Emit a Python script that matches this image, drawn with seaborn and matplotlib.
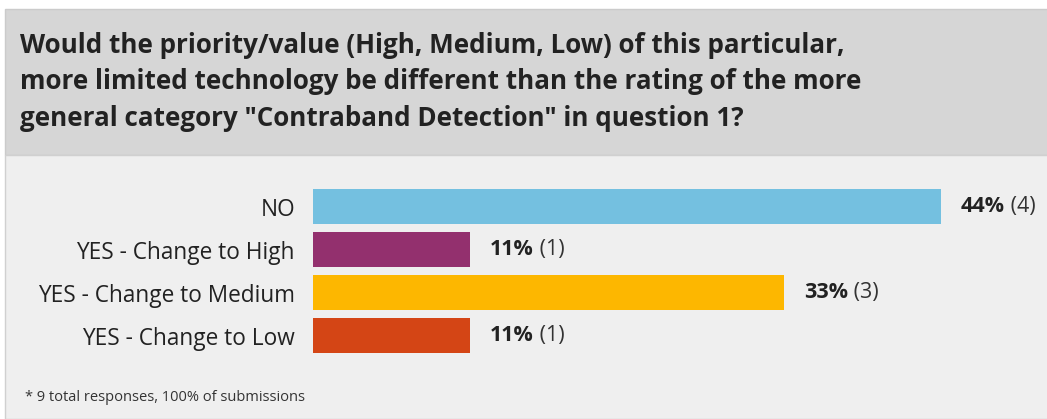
import matplotlib
matplotlib.use("Agg")
import matplotlib.pyplot as plt
import seaborn as sns
import pandas as pd
from matplotlib.patches import Rectangle

# Survey answers
categories = ["NO", "YES - Change to High", "YES - Change to Medium", "YES - Change to Low"]
counts = [4, 1, 3, 1]
percents = ["44%", "11%", "33%", "11%"]
colors = ["#74c0e0", "#93306e", "#fdb700", "#d44515"]

title = ("Would the priority/value (High, Medium, Low) of this particular,\n"
         "more limited technology be different than the rating of the more\n"
         "general category \"Contraband Detection\" in question 1?")
footnote = "* 9 total responses, 100% of submissions"

df = pd.DataFrame({"answer": categories, "count": counts})

sns.set_theme(style="white")
plt.rcParams["font.family"] = ["Open Sans", "DejaVu Sans"]

W, H = 1047, 419
fig = plt.figure(figsize=(W / 100, H / 100), dpi=100, facecolor="white")

# header and body panels
fig.patches.append(Rectangle((5 / W, 1 - 155 / H), 1, 146 / H, transform=fig.transFigure,
                             facecolor="#d6d6d6", edgecolor="#cbcbcb", lw=1, zorder=-2))
fig.patches.append(Rectangle((5 / W, 0), 1, 1 - 155 / H, transform=fig.transFigure,
                             facecolor="#efefef", edgecolor="#d0d0d0", lw=1, zorder=-2))

fig.text(20 / W, 1 - 32 / H, title, ha="left", va="top", fontsize=18.7,
         fontweight="bold", color="#222222", linespacing=1.45)
fig.text(25 / W, 1 - 401 / H, footnote, ha="left", va="baseline", fontsize=10.5, color="#333333")

# bar axes: 157 px per response
ax_left, ax_right = 313, 1013
ax = fig.add_axes([ax_left / W, 1 - 357 / H, (ax_right - ax_left) / W, 172 / H])
ax.set_facecolor("none")
sns.barplot(data=df, x="count", y="answer", hue="answer", palette=colors, saturation=1,
            width=0.81, legend=False, ax=ax, edgecolor="none")
ax.set_xlim(0, (ax_right - ax_left) / 157)
ax.set_ylim(3.5, -0.5)
ax.set_xlabel("")
ax.set_ylabel("")
ax.set_xticks([])
ax.tick_params(axis="y", length=0, pad=13, labelsize=16.3, labelcolor="#222222")
for s in ax.spines.values():
    s.set_visible(False)

for i, (c, p) in enumerate(zip(counts, percents)):
    t = ax.annotate(p, xy=(c, i), xytext=(14.4, 0), textcoords="offset points",
                    ha="left", va="center", fontsize=15.5, fontweight="bold", color="#222222")
    ax.annotate(" (%d)" % c, xy=(1, 0), xycoords=t, ha="left", va="bottom",
                fontsize=15.5, color="#333333")

fig.savefig("out.png", dpi=100)
